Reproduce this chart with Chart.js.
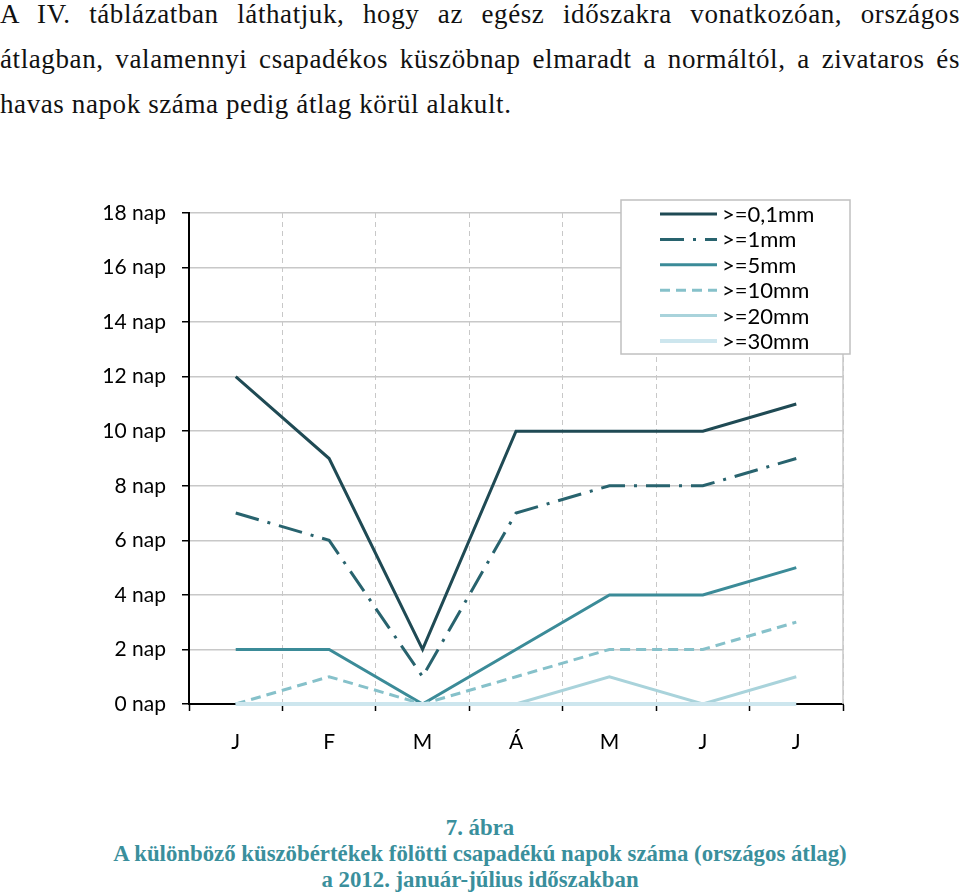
<!DOCTYPE html>
<html>
<head>
<meta charset="utf-8">
<script src="https://cdn.jsdelivr.net/npm/chart.js@4"></script>
<style>
  body { margin: 0; width: 960px; height: 895px; background: #fff; position: relative; overflow: hidden; }
  .para { position: absolute; left: 0; top: 0; width: 960px; font-family: "Liberation Serif", serif; font-size: 27px; letter-spacing: 0.6px; color: #111; }
  .para div { height: 45px; line-height: 28px; }
  .just { text-align: justify; text-align-last: justify; }
  #wrap { position: absolute; left: 0; top: 180px; width: 960px; height: 600px; }
  .cap { position: absolute; left: 0; width: 960px; text-align: center; font-family: "Liberation Serif", serif; font-weight: bold; font-size: 22.8px; color: #3a8f9c; line-height: 26px; }
</style>
</head>
<body>
<div class="para">
  <div class="just">A IV. táblázatban láthatjuk, hogy az egész időszakra vonatkozóan, országos</div>
  <div class="just">átlagban, valamennyi csapadékos küszöbnap elmaradt a normáltól, a zivataros és</div>
  <div>havas napok száma pedig átlag körül alakult.</div>
</div>
<div id="wrap"><canvas id="myLineChart" width="960" height="600"></canvas></div>
<div class="cap" style="top:815px">7. ábra<br>A különböző küszöbértékek fölötti csapadékú napok száma (országos átlag)<br>a 2012. január-július időszakban</div>

<script>
// months
let months = ["J", "F", "M", "Á", "M", "J", "J"];
let seriesNames = [">=0,1mm", ">=1mm", ">=5mm", ">=10mm", ">=20mm", ">=30mm"];

// days above threshold (national average)
let d01 = [12, 9, 2, 10, 10, 10, 11];
let d1 = [7, 6, 1, 7, 8, 8, 9];
let d5 = [2, 2, 0, 2, 4, 4, 5];
let d10 = [0, 1, 0, 1, 2, 2, 3];
let d20 = [0, 0, 0, 0, 1, 0, 1];
let d30 = [0, 0, 0, 0, 0, 0, 0];

let colors = ['#1f4a54', '#28636e', '#3b8b98', '#86c1ca', '#a9d3db', '#cde6ee'];
let dashes = [[], [24, 9, 3, 9], [], [10, 6], [], []];

let allData = [d01, d1, d5, d10, d20, d30];

let sets = allData.map((vals, i) => ({
    label: seriesNames[i],
    data: vals,
    borderColor: colors[i],
    borderWidth: i == 5 ? 4 : 3,
    borderDash: dashes[i],
    pointRadius: 0,
    fill: false,
    tension: 0,
    clip: 6,
    order: 6 - i   // last series on top, like the excel original
}));

let tickFont = 'Lato, "Open Sans", sans-serif';

// legend box sits inside the plot, top right
const boxLegend = {
    id: 'boxLegend',
    beforeDatasetsDraw(chart) {
        // solid right edge of the plot
        let ctx = chart.ctx, a = chart.chartArea;
        ctx.save();
        ctx.strokeStyle = '#c8c8c8';
        ctx.lineWidth = 1.5;
        ctx.beginPath();
        ctx.moveTo(a.right, a.top);
        ctx.lineTo(a.right, a.bottom);
        ctx.stroke();
        ctx.restore();
    },
    afterDatasetsDraw(chart) {
        let ctx = chart.ctx;
        let a = chart.chartArea;
        let x = a.right - 222, y = a.top - 13, w = 229, h = 154;
        ctx.save();
        ctx.fillStyle = '#fff';
        ctx.fillRect(x, y, w, h);
        ctx.strokeStyle = '#c0c0c0';
        ctx.lineWidth = 1.5;
        ctx.strokeRect(x, y, w, h);
        ctx.font = '22px ' + tickFont;
        ctx.textBaseline = 'middle';
        chart.data.datasets.forEach((ds, i) => {
            let ly = y + 14 + i * 25.4;
            ctx.beginPath();
            ctx.strokeStyle = ds.borderColor;
            ctx.lineWidth = ds.borderWidth;
            ctx.setLineDash(ds.borderDash);
            ctx.moveTo(x + 39, ly);
            ctx.lineTo(x + 96, ly);
            ctx.stroke();
            ctx.setLineDash([]);
            ctx.fillStyle = '#000';
            ctx.fillText(ds.label, x + 101, ly + 1);
        });
        ctx.restore();
    }
};

let ctx = document.getElementById('myLineChart').getContext('2d');
let myLineChart = new Chart(ctx, {
    type: 'line',
    data: {
        labels: months,
        datasets: sets
    },
    options: {
        responsive: false,
        animation: false,
        layout: {
            padding: { top: 33, right: 117, left: 0, bottom: 0 }
        },
        plugins: {
            legend: { display: false },
            tooltip: { enabled: false }
        },
        scales: {
            x: {
                offset: true,
                grid: {
                    offset: true,
                    color: '#c8c8c8',
                    lineWidth: 1,
                    tickColor: '#000',
                    tickLength: 7,
                    tickWidth: 1.5
                },
                border: { color: '#000', width: 2, dash: [5, 4] },
                ticks: {
                    color: '#000',
                    padding: 19,
                    font: { family: tickFont, size: 21 }
                },
                afterFit: s => { s.height = 76; }
            },
            y: {
                min: 0,
                max: 18,
                ticks: {
                    stepSize: 2,
                    color: '#000',
                    padding: 16,
                    font: { family: tickFont, size: 21 },
                    callback: v => v + ' nap'
                },
                grid: {
                    color: '#c8c8c8',
                    lineWidth: 1.5,
                    tickColor: '#000',
                    tickLength: 7,
                    tickWidth: 1.5
                },
                border: { color: '#000', width: 2 },
                afterFit: s => { s.width = 189; }
            }
        }
    },
    plugins: [boxLegend]
});
</script>
</body>
</html>
